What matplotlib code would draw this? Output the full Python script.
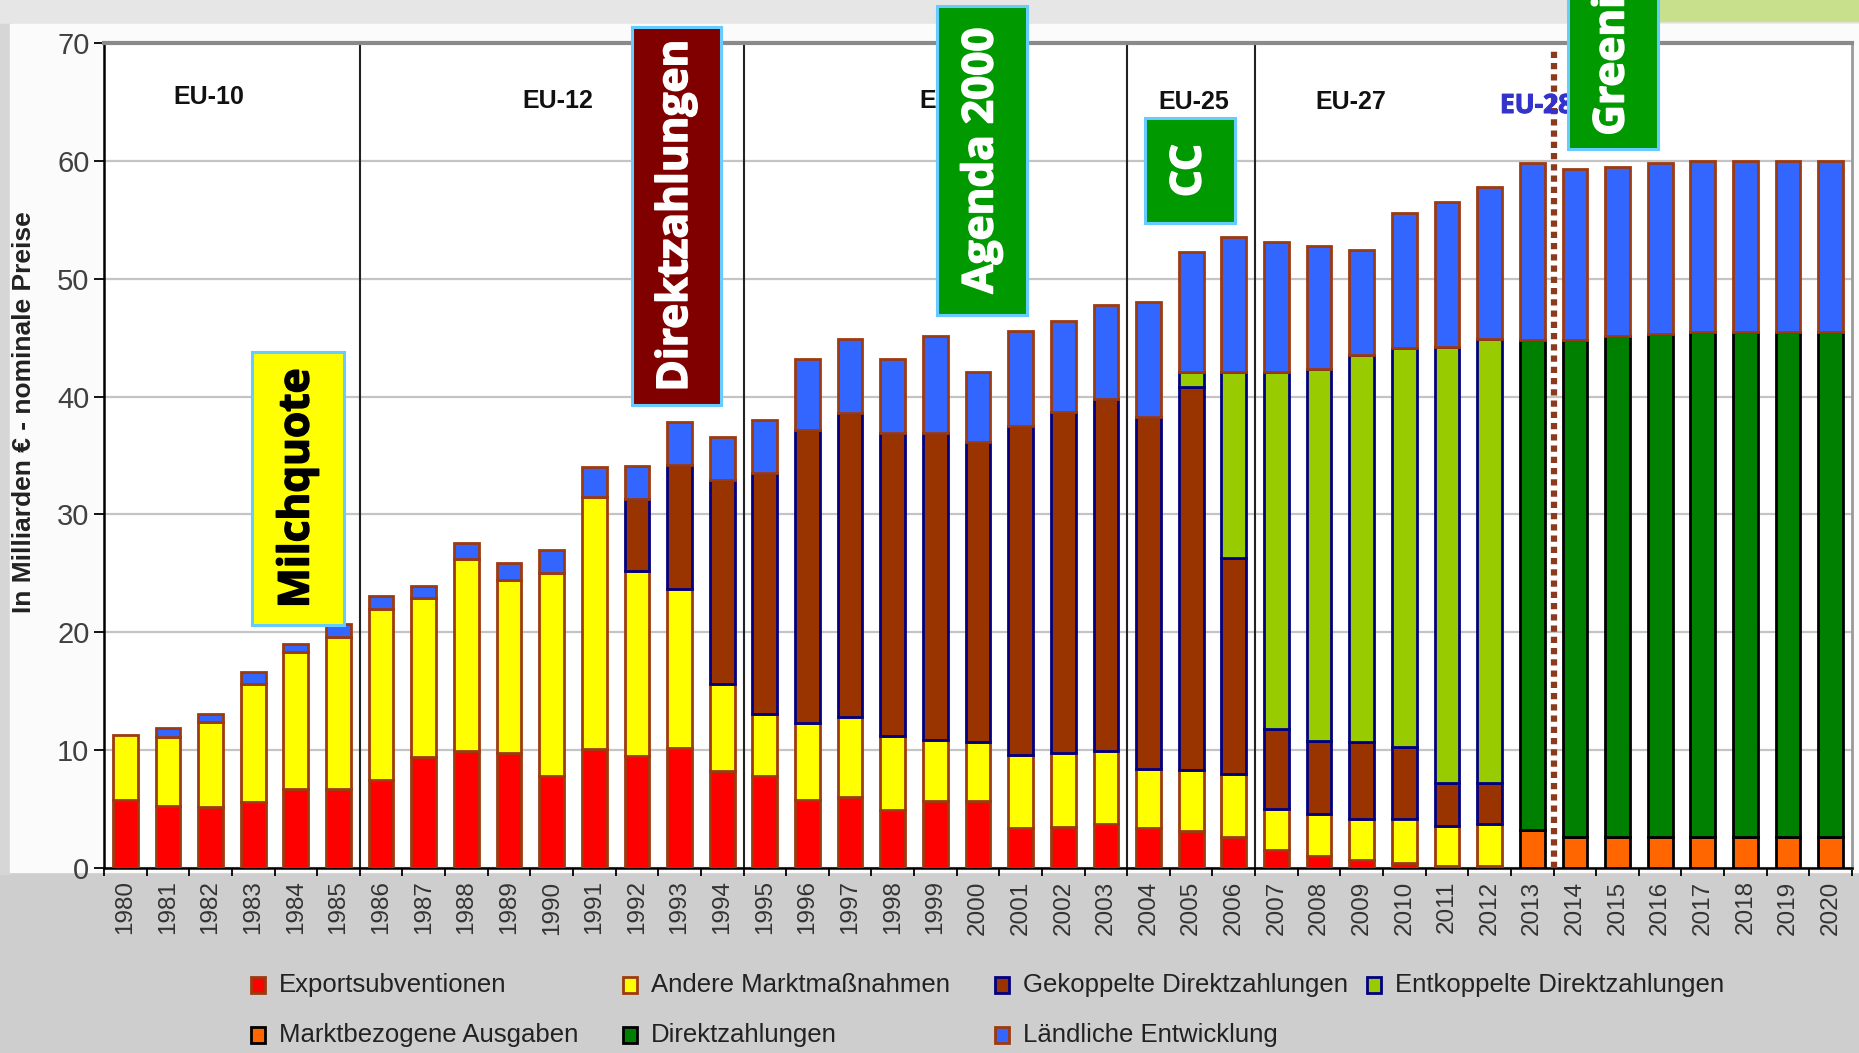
import numpy as np
import matplotlib
matplotlib.use('Agg')
import matplotlib.pyplot as plt
import matplotlib.patheffects as pe
from matplotlib.patches import Rectangle

plt.rcParams['font.family'] = ['Liberation Sans', 'DejaVu Sans']

W, H = 1859, 1053

years = list(range(1980, 2021))

export = [5.8, 5.3, 5.2, 5.6, 6.7, 6.7, 7.5, 9.4, 9.9, 9.8, 7.8, 10.1, 9.5, 10.2, 8.2, 7.8,
          5.8, 6.0, 4.9, 5.7, 5.7, 3.4, 3.5, 3.7, 3.4, 3.1, 2.6, 1.5, 1.0, 0.7, 0.4, 0.2, 0.15,
          0, 0, 0, 0, 0, 0, 0, 0]
andere = [5.5, 5.8, 7.2, 10.0, 11.6, 12.9, 14.5, 13.5, 16.3, 14.6, 17.2, 21.4, 15.7, 13.5, 7.4, 5.3,
          6.5, 6.8, 6.3, 5.2, 4.95, 6.2, 6.3, 6.2, 5.0, 5.2, 5.4, 3.5, 3.6, 3.5, 3.8, 3.4, 3.55,
          0, 0, 0, 0, 0, 0, 0, 0]
gekoppelt = [0, 0, 0, 0, 0, 0, 0, 0, 0, 0, 0, 0, 6.1, 10.5, 17.3, 20.4,
             24.9, 25.8, 25.7, 26.0, 25.5, 27.9, 28.9, 29.9, 29.9, 32.5, 18.3, 6.8, 6.2, 6.5, 6.1, 3.6, 3.5,
             0, 0, 0, 0, 0, 0, 0, 0]
entkoppelt = [0, 0, 0, 0, 0, 0, 0, 0, 0, 0, 0, 0, 0, 0, 0, 0,
              0, 0, 0, 0, 0, 0, 0, 0, 0, 1.3, 15.8, 30.3, 31.5, 32.8, 33.8, 37.0, 37.7,
              0, 0, 0, 0, 0, 0, 0, 0]
marktbezogen = [0, 0, 0, 0, 0, 0, 0, 0, 0, 0, 0, 0, 0, 0, 0, 0,
                0, 0, 0, 0, 0, 0, 0, 0, 0, 0, 0, 0, 0, 0, 0, 0, 0,
                3.2, 2.6, 2.6, 2.6, 2.6, 2.6, 2.6, 2.6]
direkt = [0, 0, 0, 0, 0, 0, 0, 0, 0, 0, 0, 0, 0, 0, 0, 0,
          0, 0, 0, 0, 0, 0, 0, 0, 0, 0, 0, 0, 0, 0, 0, 0, 0,
          41.6, 42.2, 42.5, 42.7, 42.85, 42.85, 42.85, 42.85]
laendlich = [0.0, 0.8, 0.7, 1.05, 0.7, 1.1, 1.1, 1.0, 1.4, 1.5, 2.0, 2.5, 2.8, 3.6, 3.7, 4.55,
             6.0, 6.3, 6.3, 8.2, 5.9, 8.1, 7.7, 8.0, 9.7, 10.2, 11.4, 11.0, 10.5, 8.9, 11.5, 12.3, 12.9,
             15.0, 14.5, 14.4, 14.5, 14.55, 14.55, 14.55, 14.55]

series = [
    ("Exportsubventionen", export, '#ff0000', '#9c3a10'),
    ("Andere Marktmaßnahmen", andere, '#ffff00', '#9c3a10'),
    ("Gekoppelte Direktzahlungen", gekoppelt, '#993300', '#000080'),
    ("Entkoppelte Direktzahlungen", entkoppelt, '#99cc00', '#000080'),
    ("Marktbezogene Ausgaben", marktbezogen, '#ff6600', '#000000'),
    ("Direktzahlungen", direkt, '#008000', '#000000'),
    ("Ländliche Entwicklung", laendlich, '#3366ff', '#9c3a10'),
]

# legend grid (row, col)
legend_pos = [(0, 0), (0, 1), (0, 2), (0, 3), (1, 0), (1, 1), (1, 2)]

eu_labels = ["EU-10", "EU-12", "EU-15", "EU-25", "EU-27"]
eu_x = [1981.95, 1990.15, 1999.45, 2005.05, 2008.75]
eu_y = [65.4, 65.1, 65.1, 65.0, 65.0]
separators = [1985.5, 1994.5, 2003.5, 2006.5]

box_font = ['Open Sans', 'DejaVu Sans']


def fx(px):
    return px / W


def fy(py):
    return 1 - py / H


fig = plt.figure(figsize=(W / 100, H / 100), dpi=100, facecolor='#cecece')

# slide-like background
bg = fig.add_axes([0, 0, 1, 1], zorder=-10)
bg.set_xlim(0, W)
bg.set_ylim(H, 0)
bg.axis('off')
bg.add_patch(Rectangle((0, 0), W, 24, color='#e6e6e6'))
bg.add_patch(Rectangle((0, 24), 10, 850, color='#d6d6d6'))
bg.add_patch(Rectangle((10, 24), W - 10, 848, color='#fbfbfb'))
gx = np.linspace(0, 1, 120)
gy = np.linspace(0.2, 1, 120)
G = np.clip(np.outer(gy, 1 - gx) * 1.2, 0, 1)
img = np.ones((120, 120, 3)) * (1 - 0.22 * G)[..., None]
bg.imshow(img, extent=(10, 102, 872, 60), aspect='auto')
bg.add_patch(Rectangle((1660, 0), W - 1660, 21, color='#c8e08c'))

ax = fig.add_axes([fx(104), fy(868), fx(1852) - fx(104), fy(43) - fy(868)])
ax.set_facecolor('white')

x = np.array(years)
bottom = np.zeros(len(years))
for name, vals, fc, ec in series:
    v = np.array(vals, dtype=float)
    m = v > 0
    ax.bar(x[m], v[m], bottom=bottom[m], width=0.58, color=fc, edgecolor=ec,
           linewidth=2.0, zorder=3)
    bottom += v

ax.set_xlim(1979.5, 2020.5)
ax.set_ylim(0, 70)
ax.set_yticks(range(0, 71, 10))
ax.tick_params(axis='y', labelsize=21, labelcolor='#404040', length=7, width=1.3, direction='out')
ax.set_xticks(years)
ax.set_xticklabels([str(y) for y in years], rotation=90, fontsize=17.5, color='#333333')
ax.set_xticks(np.arange(1979.5, 2021, 1.0), minor=True)
ax.tick_params(axis='x', which='major', length=0, pad=9)
ax.tick_params(axis='x', which='minor', length=6, width=1.3, direction='out')

ax.grid(axis='y', color='#c4c4c4', linewidth=1.6, zorder=0)
ax.set_axisbelow(True)
for s in ['left', 'bottom']:
    ax.spines[s].set_color('black')
    ax.spines[s].set_linewidth(1.8)
ax.spines['top'].set_color('#8a8a8a')
ax.spines['top'].set_linewidth(3)
ax.spines['right'].set_color('#9a9a9a')
ax.spines['right'].set_linewidth(2)

for sx in separators:
    ax.axvline(sx, color='#222222', linewidth=1.5, zorder=2)
ax.axvline(2013.5, ymax=0.995, color='#8b3a1e', linewidth=4.5, linestyle=(0, (1, 0.8)), zorder=4)

for lab, lx, ly in zip(eu_labels, eu_x, eu_y):
    ax.text(lx, ly, lab, ha='center', va='center', fontsize=18, fontweight='bold',
            color='#111111', zorder=5)
ax.text(2013.1, 64.7, "EU-28", ha='center', va='center', fontsize=19, fontweight='bold',
        color='#3333cc', family=box_font, zorder=5,
        path_effects=[pe.withStroke(linewidth=0.8, foreground='#3333cc')])

fig.text(fx(24), fy(412), "In Milliarden € - nominale Preise", rotation=90, ha='center',
         va='center', fontsize=19, fontweight='bold', color='#222222')


def label_box(x0, y0, x1, y1, face, text, tcolor, ty=None):
    fig.patches.append(Rectangle((fx(x0), fy(y1)), fx(x1) - fx(x0), fy(y0) - fy(y1),
                                 transform=fig.transFigure, facecolor=face,
                                 edgecolor='#66ccff', linewidth=2.2, zorder=5))
    if ty is None:
        ty = (y0 + y1) / 2
    fig.text(fx((x0 + x1) / 2), fy(ty), text, rotation=90, ha='center', va='center',
             fontsize=30.5, fontweight='bold', color=tcolor, family=box_font, zorder=6,
             path_effects=[pe.withStroke(linewidth=1.1, foreground=tcolor)])


label_box(252, 352, 344, 625, '#ffff00', "Milchquote", 'black')
label_box(632, 27, 721, 405, '#800000', "Direktzahlungen", 'white')
label_box(937, 6, 1027, 315, '#009900', "Agenda 2000", 'white')
label_box(1145, 118, 1235, 223, '#009900', "CC", 'white')
label_box(1568, -120, 1658, 149, '#009900', "Greening", 'white', ty=40)

# legend on a fixed grid
for (name, vals, fc, ec), (r, c) in zip(series, legend_pos):
    lx = 258 + 372 * c
    ly = 985 + 50 * r
    fig.patches.append(Rectangle((fx(lx - 7), fy(ly + 8)), fx(14), 16 / H,
                                 transform=fig.transFigure, facecolor=fc,
                                 edgecolor=ec, linewidth=2))
    fig.text(fx(lx + 21), fy(ly), name, ha='left', va='center', fontsize=18.5,
             color='#222222')

fig.savefig('out.png', dpi=100, facecolor=fig.get_facecolor())
